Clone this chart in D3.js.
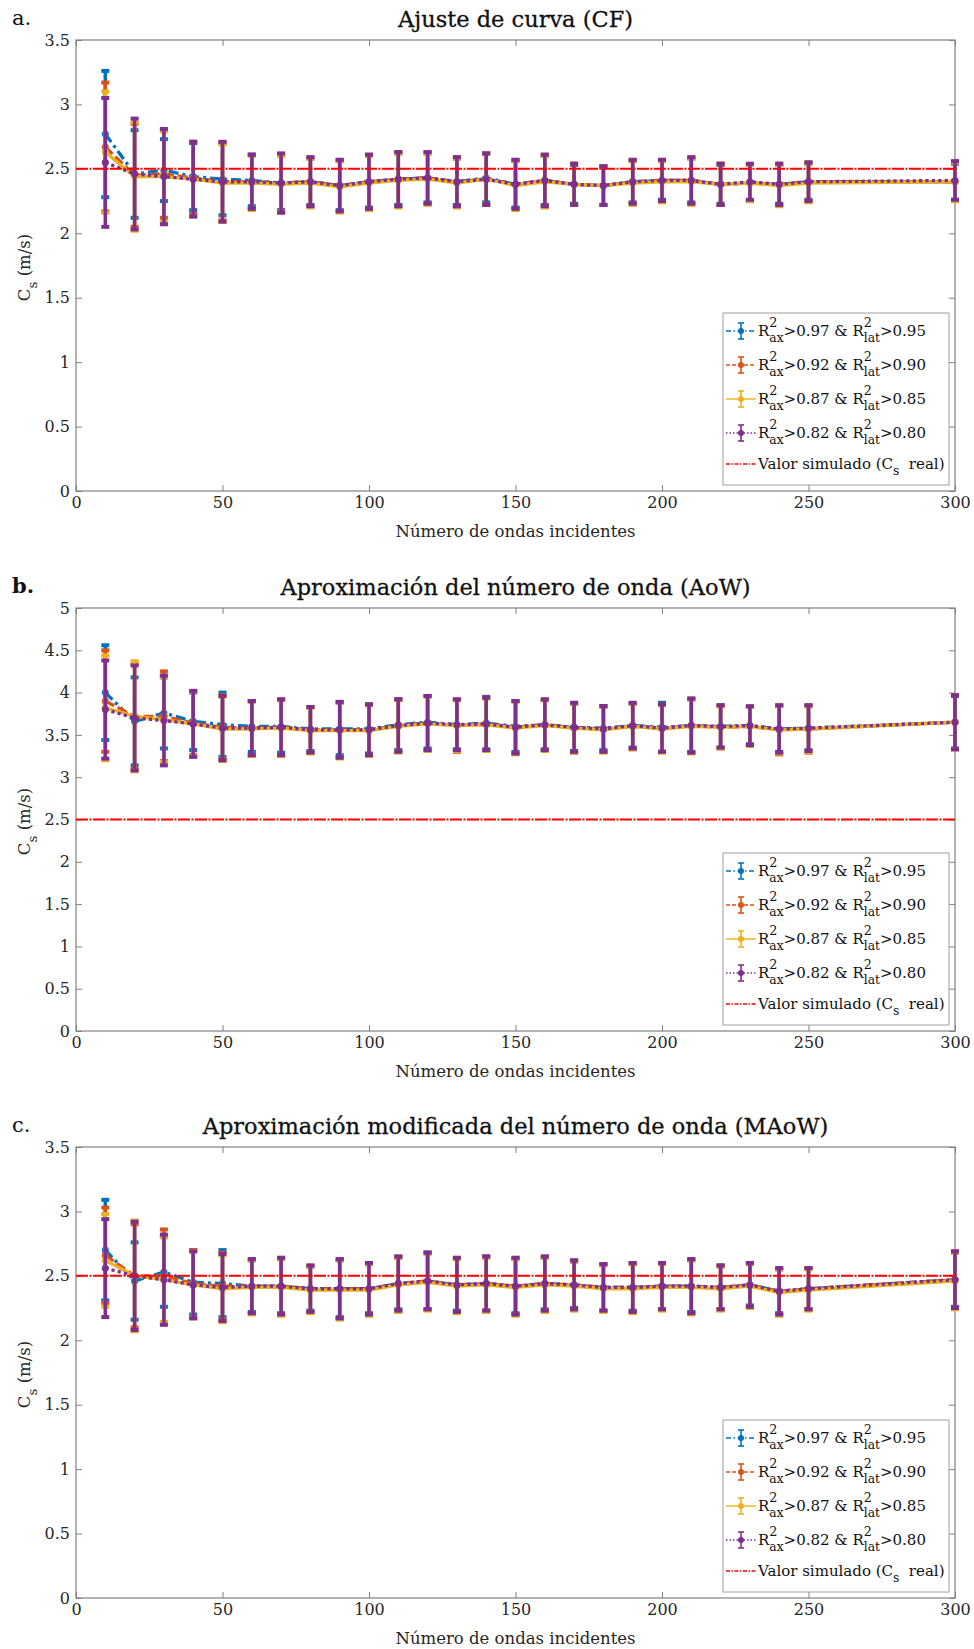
<!DOCTYPE html>
<html>
<head>
<meta charset="utf-8">
<script src="https://cdn.jsdelivr.net/npm/d3@7"></script>
<style>
  body { margin: 0; background: #fff; }
  text { font-family: "DejaVu Serif", serif; white-space: pre; }
</style>
</head>
<body>
<div id="chart"></div>
<script>
// Data
// ============================================================================
const ondas = [10, 20, 30, 40, 50, 60, 70, 80, 90, 100, 110, 120, 130, 140, 150,
    160, 170, 180, 190, 200, 210, 220, 230, 240, 250, 300];
const xTicks = [0, 50, 100, 150, 200, 250, 300];
const yTicksCF = [0, 0.5, 1, 1.5, 2, 2.5, 3, 3.5];
const yTicksAoW = [0, 0.5, 1, 1.5, 2, 2.5, 3, 3.5, 4, 4.5, 5];
const csReal = 2.5;

const axThr = ["0.97", "0.92", "0.87", "0.82"];
const latThr = ["0.95", "0.90", "0.85", "0.80"];

// a. Ajuste de curva (CF)
const cfMean97 = [2.77, 2.46, 2.49, 2.44, 2.42, 2.41, 2.39, 2.40, 2.37, 2.40, 2.42, 2.43, 2.40, 2.43, 2.38, 2.41, 2.38, 2.37, 2.40, 2.41, 2.41, 2.38, 2.39, 2.38, 2.40, 2.40];
const cfErr97  = [0.49, 0.34, 0.24, 0.26, 0.28, 0.20, 0.21, 0.18, 0.19, 0.20, 0.20, 0.19, 0.18, 0.19, 0.18, 0.19, 0.15, 0.15, 0.16, 0.15, 0.17, 0.15, 0.14, 0.15, 0.14, 0.14];
const cfMean92 = [2.67, 2.45, 2.46, 2.43, 2.40, 2.40, 2.39, 2.40, 2.37, 2.40, 2.42, 2.43, 2.40, 2.42, 2.38, 2.41, 2.38, 2.37, 2.40, 2.41, 2.41, 2.38, 2.39, 2.38, 2.40, 2.40];
const cfErr92  = [0.50, 0.40, 0.34, 0.28, 0.30, 0.21, 0.22, 0.19, 0.20, 0.21, 0.21, 0.20, 0.19, 0.20, 0.19, 0.20, 0.16, 0.15, 0.17, 0.16, 0.18, 0.16, 0.14, 0.16, 0.15, 0.15];
const cfMean87 = [2.63, 2.44, 2.44, 2.42, 2.39, 2.39, 2.38, 2.39, 2.36, 2.39, 2.41, 2.42, 2.39, 2.42, 2.37, 2.40, 2.38, 2.37, 2.39, 2.40, 2.40, 2.38, 2.39, 2.37, 2.39, 2.40];
const cfErr87  = [0.47, 0.42, 0.35, 0.29, 0.30, 0.21, 0.22, 0.19, 0.20, 0.21, 0.21, 0.20, 0.19, 0.20, 0.19, 0.20, 0.16, 0.15, 0.17, 0.16, 0.18, 0.16, 0.14, 0.16, 0.15, 0.15];
const cfMean82 = [2.55, 2.46, 2.44, 2.42, 2.40, 2.40, 2.39, 2.40, 2.37, 2.40, 2.42, 2.43, 2.40, 2.42, 2.38, 2.41, 2.38, 2.37, 2.40, 2.41, 2.41, 2.38, 2.40, 2.38, 2.40, 2.41];
const cfErr82  = [0.50, 0.43, 0.37, 0.29, 0.31, 0.21, 0.23, 0.19, 0.20, 0.21, 0.21, 0.20, 0.19, 0.20, 0.19, 0.20, 0.16, 0.15, 0.17, 0.16, 0.18, 0.16, 0.14, 0.16, 0.15, 0.15];

// b. Aproximacion del numero de onda (AoW)
const aowMean97 = [4.00, 3.66, 3.76, 3.66, 3.62, 3.60, 3.60, 3.57, 3.57, 3.57, 3.62, 3.65, 3.62, 3.64, 3.60, 3.62, 3.59, 3.58, 3.61, 3.59, 3.61, 3.60, 3.61, 3.57, 3.58, 3.65];
const aowErr97  = [0.56, 0.52, 0.42, 0.34, 0.38, 0.30, 0.31, 0.26, 0.31, 0.29, 0.30, 0.31, 0.29, 0.31, 0.30, 0.29, 0.28, 0.26, 0.26, 0.29, 0.31, 0.25, 0.22, 0.27, 0.26, 0.31];
const aowMean92 = [3.90, 3.72, 3.72, 3.64, 3.59, 3.58, 3.59, 3.56, 3.56, 3.56, 3.61, 3.64, 3.61, 3.63, 3.59, 3.62, 3.58, 3.57, 3.60, 3.58, 3.61, 3.59, 3.60, 3.56, 3.57, 3.65];
const aowErr92  = [0.60, 0.62, 0.53, 0.38, 0.38, 0.32, 0.33, 0.27, 0.33, 0.30, 0.31, 0.32, 0.31, 0.31, 0.31, 0.30, 0.29, 0.27, 0.27, 0.28, 0.32, 0.25, 0.23, 0.29, 0.28, 0.32];
const aowMean87 = [3.82, 3.72, 3.68, 3.63, 3.57, 3.57, 3.58, 3.55, 3.55, 3.55, 3.60, 3.63, 3.61, 3.62, 3.58, 3.61, 3.58, 3.56, 3.60, 3.57, 3.60, 3.59, 3.60, 3.56, 3.57, 3.65];
const aowErr87  = [0.62, 0.65, 0.50, 0.38, 0.38, 0.32, 0.33, 0.27, 0.33, 0.30, 0.31, 0.32, 0.30, 0.31, 0.31, 0.30, 0.29, 0.27, 0.27, 0.28, 0.32, 0.25, 0.23, 0.28, 0.27, 0.32];
const aowMean82 = [3.80, 3.70, 3.67, 3.63, 3.58, 3.58, 3.59, 3.56, 3.56, 3.56, 3.61, 3.64, 3.62, 3.63, 3.59, 3.62, 3.59, 3.57, 3.61, 3.58, 3.61, 3.60, 3.61, 3.57, 3.58, 3.65];
const aowErr82  = [0.58, 0.62, 0.53, 0.39, 0.38, 0.32, 0.33, 0.27, 0.33, 0.30, 0.31, 0.32, 0.30, 0.31, 0.31, 0.30, 0.29, 0.27, 0.27, 0.28, 0.32, 0.25, 0.23, 0.28, 0.27, 0.32];

// c. Aproximacion modificada del numero de onda (MAoW)
const maowMean97 = [2.70, 2.46, 2.53, 2.45, 2.44, 2.42, 2.42, 2.40, 2.40, 2.40, 2.44, 2.46, 2.43, 2.44, 2.42, 2.44, 2.43, 2.41, 2.41, 2.42, 2.42, 2.41, 2.43, 2.38, 2.40, 2.47];
const maowErr97  = [0.39, 0.30, 0.27, 0.25, 0.26, 0.20, 0.21, 0.17, 0.22, 0.19, 0.20, 0.22, 0.20, 0.21, 0.21, 0.20, 0.18, 0.18, 0.18, 0.18, 0.20, 0.17, 0.16, 0.17, 0.16, 0.21];
const maowMean92 = [2.66, 2.50, 2.50, 2.44, 2.42, 2.42, 2.42, 2.40, 2.40, 2.40, 2.44, 2.46, 2.43, 2.44, 2.42, 2.44, 2.43, 2.41, 2.41, 2.42, 2.42, 2.41, 2.43, 2.38, 2.40, 2.47];
const maowErr92  = [0.37, 0.40, 0.36, 0.26, 0.26, 0.21, 0.22, 0.18, 0.23, 0.20, 0.21, 0.22, 0.21, 0.21, 0.22, 0.21, 0.19, 0.18, 0.19, 0.18, 0.21, 0.17, 0.17, 0.18, 0.16, 0.22];
const maowMean87 = [2.62, 2.50, 2.47, 2.43, 2.40, 2.41, 2.41, 2.39, 2.39, 2.39, 2.43, 2.45, 2.42, 2.43, 2.41, 2.43, 2.42, 2.40, 2.40, 2.41, 2.41, 2.40, 2.42, 2.37, 2.39, 2.46];
const maowErr87  = [0.36, 0.43, 0.33, 0.26, 0.26, 0.21, 0.22, 0.18, 0.23, 0.20, 0.21, 0.22, 0.21, 0.21, 0.22, 0.21, 0.19, 0.18, 0.19, 0.18, 0.21, 0.17, 0.17, 0.18, 0.16, 0.22];
const maowMean82 = [2.56, 2.50, 2.47, 2.43, 2.41, 2.42, 2.42, 2.40, 2.40, 2.40, 2.44, 2.46, 2.43, 2.44, 2.42, 2.44, 2.43, 2.41, 2.41, 2.42, 2.42, 2.41, 2.43, 2.38, 2.40, 2.47];
const maowErr82  = [0.38, 0.42, 0.35, 0.26, 0.26, 0.21, 0.22, 0.18, 0.23, 0.20, 0.21, 0.22, 0.21, 0.21, 0.22, 0.21, 0.19, 0.18, 0.19, 0.18, 0.21, 0.17, 0.17, 0.18, 0.16, 0.22];

// Styles
// ============================================================================
const colors = ["#0072BD", "#D95319", "#EDB120", "#7E2F8E"];
const dashes = ["10,4,3,4", "10,4", null, "3.2,3.2"];
const legendDashes = ["5,2.5,1.5,2.5", "4,2", null, "1.5,2"];
const realColor = "#FF0000";

const W = 974, H = 1649,
    left = 76, right = 955;

const panels = [
    {letter: "a.", bold: false, title: "Ajuste de curva (CF)", yMax: 3.5, yTicks: yTicksCF,
     top: 40, bottom: 491,
     means: [cfMean97, cfMean92, cfMean87, cfMean82], errs: [cfErr97, cfErr92, cfErr87, cfErr82]},
    {letter: "b.", bold: true, title: "Aproximación del número de onda (AoW)", yMax: 5, yTicks: yTicksAoW,
     top: 608, bottom: 1031,
     means: [aowMean97, aowMean92, aowMean87, aowMean82], errs: [aowErr97, aowErr92, aowErr87, aowErr82]},
    {letter: "c.", bold: false, title: "Aproximación modificada del número de onda (MAoW)", yMax: 3.5, yTicks: yTicksCF,
     top: 1147, bottom: 1598,
     means: [maowMean97, maowMean92, maowMean87, maowMean82], errs: [maowErr97, maowErr92, maowErr87, maowErr82]}
];

// Helpers
// ============================================================================
// Text with stacked super/subscripts, e.g. R^2_ax
function richText(parent, parts, size) {
    const g = parent.append("g");
    let x = 0;
    parts.forEach(p => {
        if (p.t !== undefined) {
            const t = g.append("text").attr("x", x).attr("font-size", size).text(p.t);
            x += t.node().getComputedTextLength();
        } else {
            let w = 0;
            if (p.sup) {
                const t = g.append("text").attr("x", x).attr("y", -size * 0.6)
                    .attr("font-size", size * 0.85).text(p.sup);
                w = Math.max(w, t.node().getComputedTextLength());
            }
            if (p.sub) {
                const t = g.append("text").attr("x", x).attr("y", size * 0.42)
                    .attr("font-size", size * 0.82).text(p.sub);
                w = Math.max(w, t.node().getComputedTextLength());
            }
            x += w;
        }
    });
    return {g: g, width: x};
}

const svg = d3.select("#chart")
    .append("svg")
        .attr("width", W)
        .attr("height", H);

svg.append("rect").attr("width", W).attr("height", H).attr("fill", "#fff");

const xScale = d3.scaleLinear().domain([0, 300]).range([left, right]);

// Plot
// ============================================================================
panels.forEach(p => {
    const yScale = d3.scaleLinear().domain([0, p.yMax]).range([p.bottom, p.top]);
    const g = svg.append("g");

    // Axes (inward ticks on all four sides)
    const styleAxis = a => {
        a.select(".domain").remove();
        a.selectAll(".tick line").attr("stroke", "#808080");
        a.selectAll(".tick text").attr("fill", "#262626")
            .attr("font-family", "DejaVu Serif").attr("font-size", 16);
    };
    g.append("g")
        .attr("transform", "translate(0," + p.bottom + ")")
        .call(d3.axisBottom(xScale).tickValues(xTicks).tickSizeInner(-6).tickSizeOuter(0)
            .tickPadding(6).tickFormat(d => d))
        .call(styleAxis);
    g.append("g")
        .attr("transform", "translate(0," + p.top + ")")
        .call(d3.axisTop(xScale).tickValues(xTicks).tickSizeInner(-6).tickSizeOuter(0).tickFormat(""))
        .call(styleAxis);
    g.append("g")
        .attr("transform", "translate(" + left + ",0)")
        .call(d3.axisLeft(yScale).tickValues(p.yTicks).tickSizeInner(-6).tickSizeOuter(0)
            .tickPadding(6).tickFormat(d => d))
        .call(styleAxis);
    g.append("g")
        .attr("transform", "translate(" + right + ",0)")
        .call(d3.axisRight(yScale).tickValues(p.yTicks).tickSizeInner(-6).tickSizeOuter(0).tickFormat(""))
        .call(styleAxis);

    g.append("rect")
        .attr("x", left).attr("y", p.top)
        .attr("width", right - left).attr("height", p.bottom - p.top)
        .attr("fill", "none").attr("stroke", "#808080").attr("stroke-width", 1.2);

    // Series: line, error bars, markers
    p.means.forEach((means, si) => {
        const pts = ondas.map((x, i) => ({x: x, m: means[i], e: p.errs[si][i]}));
        const sg = g.append("g").attr("stroke", colors[si]).attr("fill", colors[si]);

        sg.append("path")
            .datum(pts)
            .attr("fill", "none")
            .attr("stroke-width", 3.3)
            .attr("stroke-dasharray", dashes[si])
            .attr("d", d3.line().x(d => xScale(d.x)).y(d => yScale(d.m)));

        const bars = sg.selectAll(".bar").data(pts).enter().append("g");
        bars.append("line")
            .attr("x1", d => xScale(d.x)).attr("x2", d => xScale(d.x))
            .attr("y1", d => yScale(d.m - d.e)).attr("y2", d => yScale(d.m + d.e))
            .attr("stroke-width", 3.5);
        bars.append("line")
            .attr("x1", d => xScale(d.x) - 4).attr("x2", d => xScale(d.x) + 4)
            .attr("y1", d => yScale(d.m + d.e)).attr("y2", d => yScale(d.m + d.e))
            .attr("stroke-width", 4);
        bars.append("line")
            .attr("x1", d => xScale(d.x) - 4).attr("x2", d => xScale(d.x) + 4)
            .attr("y1", d => yScale(d.m - d.e)).attr("y2", d => yScale(d.m - d.e))
            .attr("stroke-width", 4);
        bars.append("circle")
            .attr("cx", d => xScale(d.x)).attr("cy", d => yScale(d.m))
            .attr("r", 3.5).attr("stroke", "none");
    });

    // Simulated value
    g.append("line")
        .attr("x1", xScale(0)).attr("x2", xScale(300))
        .attr("y1", yScale(csReal)).attr("y2", yScale(csReal))
        .attr("stroke", realColor).attr("stroke-width", 2)
        .attr("stroke-dasharray", "12,1.5,2,1.5");

    // Titles and labels
    g.append("text")
        .attr("x", (left + right) / 2).attr("y", p.top - 13)
        .attr("text-anchor", "middle")
        .attr("font-size", 22.5).attr("fill", "#111")
        .attr("stroke", "#111").attr("stroke-width", 0.3)
        .text(p.title);

    g.append("text")
        .attr("x", 12).attr("y", p.top - 15)
        .attr("font-family", p.bold ? "DejaVu Serif" : "Open Sans")
        .attr("font-weight", p.bold ? "bold" : "normal")
        .attr("font-size", 21).attr("fill", "#111")
        .text(p.letter);

    g.append("text")
        .attr("x", (left + right) / 2).attr("y", p.bottom + 46)
        .attr("text-anchor", "middle")
        .attr("font-size", 16.5).attr("fill", "#262626")
        .text("Número de ondas incidentes");

    const yl = g.append("g")
        .attr("transform", "translate(30," + ((p.top + p.bottom) / 2 + 2) + ") rotate(-90)");
    const ylab = richText(yl, [{t: "C"}, {sub: "s"}, {t: " (m/s)"}], 16.5);
    ylab.g.attr("transform", "translate(" + (-ylab.width / 2) + ",0)").attr("fill", "#262626");

    // Legend
    const lg = g.append("g")
        .attr("transform", "translate(723," + (p.bottom - 178) + ")");
    lg.append("rect")
        .attr("width", 226).attr("height", 172)
        .attr("fill", "#fff").attr("stroke", "#a0a0a0").attr("stroke-width", 1);

    const rowY = [18, 52, 86, 120, 151];
    colors.forEach((c, i) => {
        const ry = rowY[i];
        const row = lg.append("g").attr("transform", "translate(0," + ry + ")");
        row.append("line").attr("x1", 3).attr("x2", 33)
            .attr("stroke", c).attr("stroke-width", 1.4)
            .attr("stroke-dasharray", legendDashes[i]);
        row.append("line").attr("x1", 18).attr("x2", 18).attr("y1", -8).attr("y2", 8)
            .attr("stroke", c).attr("stroke-width", 1.6);
        row.append("line").attr("x1", 15).attr("x2", 21).attr("y1", -8).attr("y2", -8)
            .attr("stroke", c).attr("stroke-width", 1.6);
        row.append("line").attr("x1", 15).attr("x2", 21).attr("y1", 8).attr("y2", 8)
            .attr("stroke", c).attr("stroke-width", 1.6);
        row.append("circle").attr("cx", 18).attr("cy", 0).attr("r", 3).attr("fill", c);
        const lab = richText(row, [
            {t: "R"}, {sup: "2", sub: "ax"}, {t: ">" + axThr[i] + " & R"},
            {sup: "2", sub: "lat"}, {t: ">" + latThr[i]}], 15);
        lab.g.attr("transform", "translate(35,5)").attr("fill", "#111");
    });
    const rr = lg.append("g").attr("transform", "translate(0," + rowY[4] + ")");
    rr.append("line").attr("x1", 3).attr("x2", 33)
        .attr("stroke", realColor).attr("stroke-width", 1.4)
        .attr("stroke-dasharray", "4,1.5,1.5,1.5");
    const rlab = richText(rr, [{t: "Valor simulado (C"}, {sub: "s"}, {t: "  real)"}], 15);
    rlab.g.attr("transform", "translate(35,5)").attr("fill", "#111");
});
</script>
</body>
</html>
